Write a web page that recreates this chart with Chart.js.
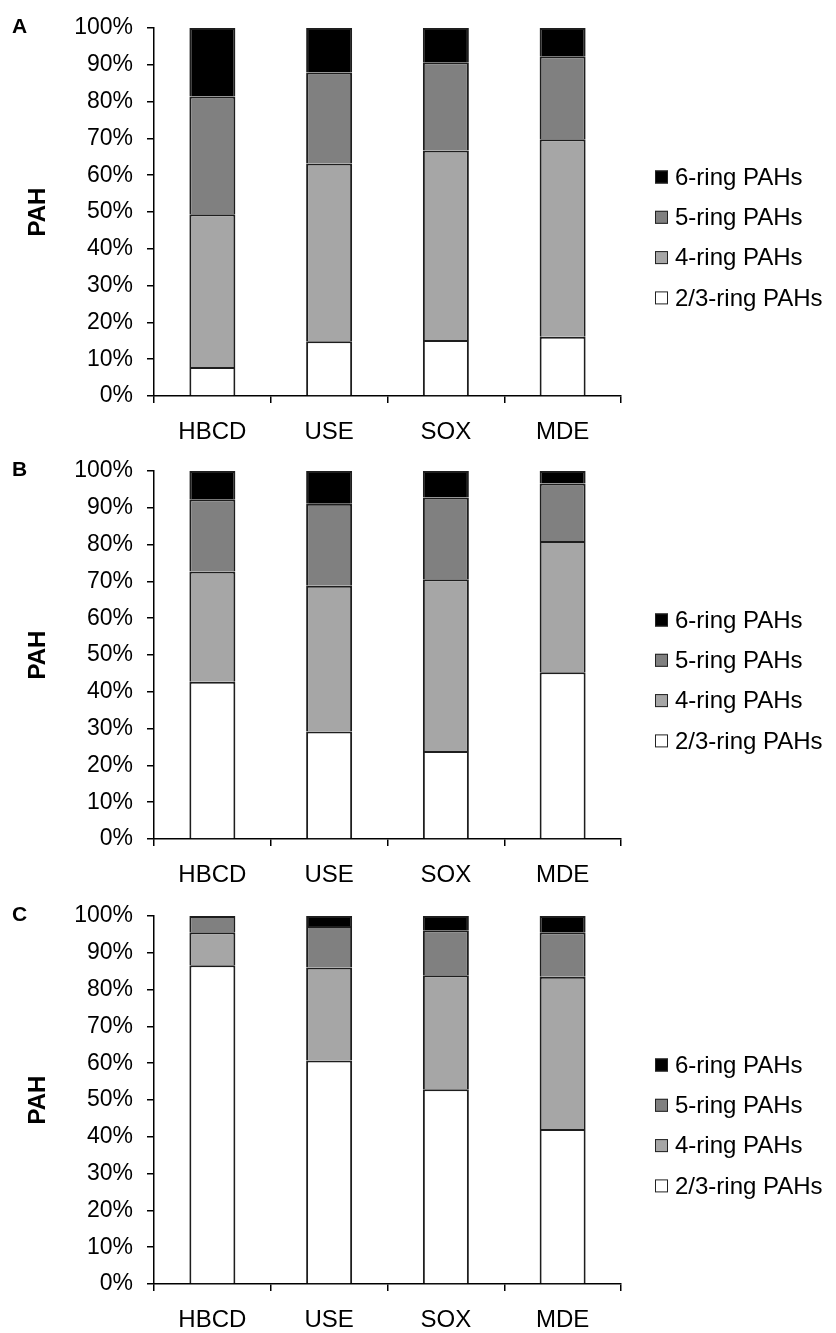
<!DOCTYPE html>
<html>
<head>
<meta charset="utf-8">
<script src="https://cdn.jsdelivr.net/npm/chart.js@4.4.0/dist/chart.umd.min.js"></script>
<style>
  body { margin: 0; background: #ffffff; }
  #wrap { position: relative; width: 836px; height: 1333px; }
  canvas { position: absolute; left: 0; }
</style>
</head>
<body>
<div id="wrap">
  <canvas id="chartA" width="836" height="445" style="top:0px"></canvas>
  <canvas id="chartB" width="836" height="445" style="top:443px"></canvas>
  <canvas id="chartC" width="836" height="445" style="top:888px"></canvas>
</div>
<script>
// Categories and series
const categories = ['HBCD', 'USE', 'SOX', 'MDE'];
const seriesLabels = ['2/3-ring PAHs', '4-ring PAHs', '5-ring PAHs', '6-ring PAHs'];
const seriesColors = ['#ffffff', '#a6a6a6', '#808080', '#000000'];
const yTicks = [0, 10, 20, 30, 40, 50, 60, 70, 80, 90, 100];

// Panel A (percent of total PAH)
const panelA_ring23 = [7.9, 14.9, 15.2, 16.1];
const panelA_ring4 = [41.5, 48.3, 51.5, 53.7];
const panelA_ring5 = [32.0, 24.7, 24.0, 22.5];
const panelA_ring6 = [18.6, 12.1, 9.3, 7.7];

// Panel B
const panelB_ring23 = [42.7, 29.2, 23.9, 45.3];
const panelB_ring4 = [30.0, 39.6, 46.7, 35.7];
const panelB_ring5 = [19.6, 22.3, 22.2, 15.6];
const panelB_ring6 = [7.7, 8.9, 7.2, 3.4];

// Panel C
const panelC_ring23 = [86.6, 60.7, 52.9, 42.1];
const panelC_ring4 = [9.0, 25.3, 31.0, 41.4];
const panelC_ring5 = [4.4, 11.3, 12.2, 12.1];
const panelC_ring6 = [0, 2.7, 3.9, 4.4];

const FONT = '"Liberation Sans", Arial, sans-serif';

// Draws the panel letter (A, B, C) in the top left corner
const panelLetter = {
  id: 'panelLetter',
  afterDraw(chart, args, opts) {
    const ctx = chart.ctx;
    ctx.save();
    ctx.font = 'bold 21px ' + FONT;
    ctx.fillStyle = '#000';
    ctx.textAlign = 'left';
    ctx.textBaseline = 'middle';
    ctx.fillText(opts.text, 12, 27);
    ctx.restore();
  }
};

// Legend on the right, 6-ring on top
const sideLegend = {
  id: 'sideLegend',
  afterDraw(chart) {
    const ctx = chart.ctx;
    const sets = chart.data.datasets.slice().reverse();
    const top = chart.chartArea.top + 149;
    ctx.save();
    ctx.font = '24px ' + FONT;
    ctx.textAlign = 'left';
    ctx.textBaseline = 'middle';
    sets.forEach((ds, i) => {
      let y = top + i * 40.3;
      ctx.fillStyle = ds.backgroundColor;
      ctx.fillRect(655, y - 6.5, 13, 13);
      ctx.strokeStyle = '#222';
      ctx.lineWidth = 1;
      ctx.strokeRect(655.5, y - 6, 12, 12);
      ctx.fillStyle = '#000';
      ctx.fillText(ds.label, 675, y + 1);
    });
    ctx.restore();
  }
};

function makePanel(id, letter, ring23, ring4, ring5, ring6) {
  const values = [ring23, ring4, ring5, ring6];
  const datasets = values.map((v, i) => ({
    label: seriesLabels[i],
    data: v,
    backgroundColor: seriesColors[i],
    borderColor: '#1e1e1e',
    borderWidth: 2,
    borderSkipped: 'start',
    barPercentage: 0.394,
    categoryPercentage: 1.0
  }));

  return new Chart(document.getElementById(id), {
    type: 'bar',
    data: { labels: categories, datasets: datasets },
    options: {
      responsive: false,
      animation: false,
      devicePixelRatio: 1,
      layout: { padding: { top: 28, right: 215, bottom: 0, left: 0 } },
      plugins: {
        legend: { display: false },
        tooltip: { enabled: false },
        panelLetter: { text: letter }
      },
      scales: {
        x: {
          stacked: true,
          grid: { drawOnChartArea: false, drawTicks: true, tickLength: 7, color: '#000', lineWidth: 1.5, offset: true },
          border: { color: '#000', width: 1.5 },
          ticks: { color: '#000', font: { family: FONT, size: 24 }, padding: 15, maxRotation: 0 },
          afterFit: (s) => { s.height = 49; }
        },
        y: {
          stacked: true,
          min: 0,
          max: 100,
          afterBuildTicks: (s) => { s.ticks = yTicks.map(v => ({ value: v })); },
          grid: { drawOnChartArea: false, drawTicks: true, tickLength: 7, color: '#000', lineWidth: 1.5 },
          border: { color: '#000', width: 1.5 },
          ticks: {
            color: '#000',
            font: { family: FONT, size: 23 },
            padding: 14,
            callback: (v) => v + '%'
          },
          title: {
            display: true,
            text: 'PAH',
            color: '#000',
            font: { family: FONT, size: 24, weight: 'bold' },
            padding: { top: 24, bottom: 0 }
          },
          afterFit: (s) => { s.width = 154; }
        }
      }
    },
    plugins: [panelLetter, sideLegend]
  });
}

makePanel('chartA', 'A', panelA_ring23, panelA_ring4, panelA_ring5, panelA_ring6);
makePanel('chartB', 'B', panelB_ring23, panelB_ring4, panelB_ring5, panelB_ring6);
makePanel('chartC', 'C', panelC_ring23, panelC_ring4, panelC_ring5, panelC_ring6);
</script>
</body>
</html>
